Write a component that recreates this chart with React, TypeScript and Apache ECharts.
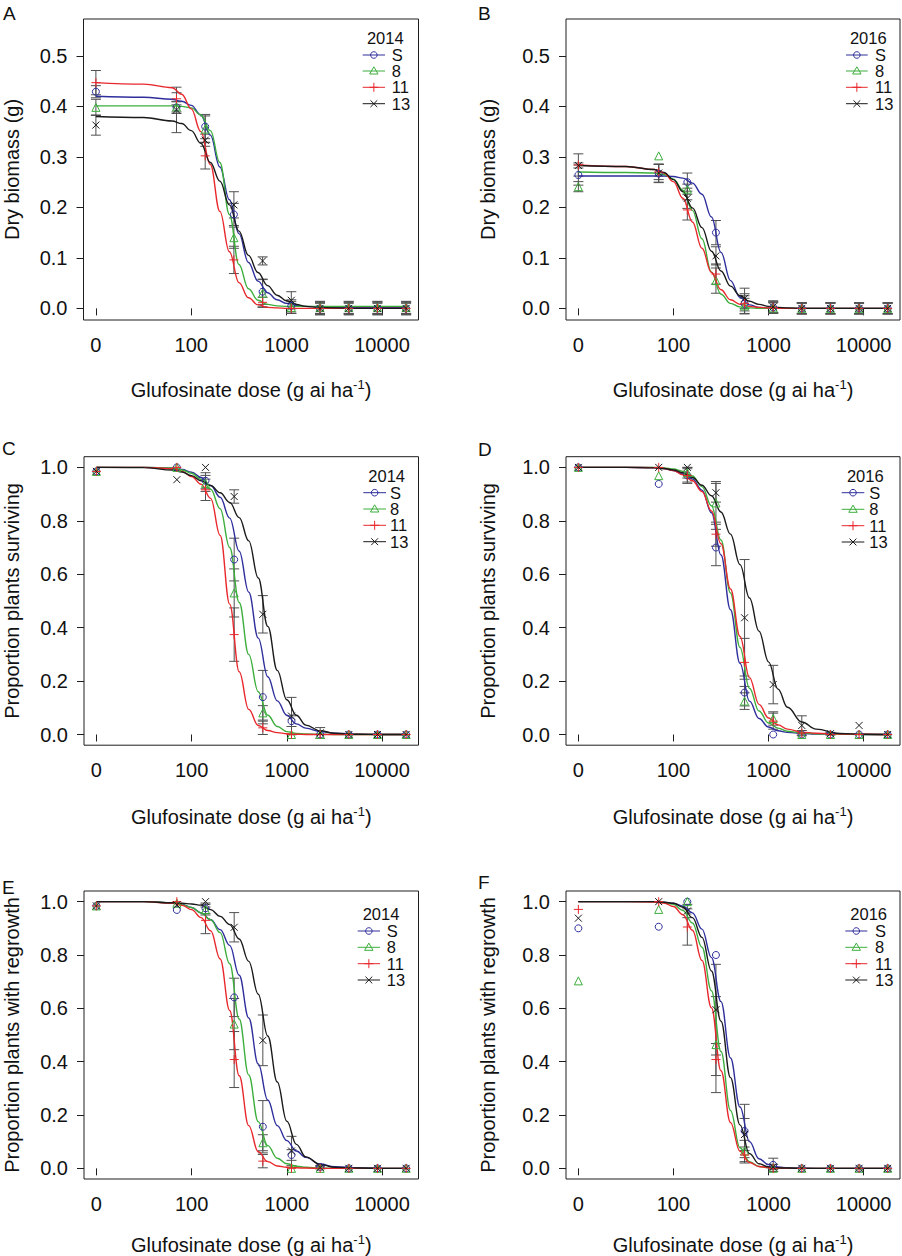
import React, { useEffect, useRef } from 'react';
import * as echarts from 'echarts';

// ---------- shared categories / ticks ----------
const DOSES = [0, 70, 140, 280, 560, 1120, 2240, 4480, 8960, 17920];
const GROUPS = ['S', '8', '11', '13'];
const CURVE_LOG_DOSE = [1.0, 1.5, 1.8, 1.9, 2.0, 2.1, 2.2, 2.3, 2.4, 2.5, 2.6, 2.7, 2.8, 2.9, 3.0, 3.1, 3.2, 3.35, 3.5, 3.75, 4.0, 4.253];
const X_TICKS = [1, 2, 3, 4];
const X_TICK_LABELS = ['0', '100', '1000', '10000'];
const Y_TICKS_BIOMASS = [0, 0.1, 0.2, 0.3, 0.4, 0.5];
const Y_TICKS_PROP = [0, 0.2, 0.4, 0.6, 0.8, 1.0];

// ---------- Panel A: dry biomass 2014 ----------
const A_CURVE_S = [0.420, 0.418, 0.414, 0.410, 0.402, 0.383, 0.343, 0.280, 0.215, 0.148, 0.091, 0.054, 0.031, 0.017, 0.010, 0.006, 0.004, 0.003, 0.002, 0.002, 0.002, 0.002];
const A_CURVE_8 = [0.401, 0.401, 0.401, 0.400, 0.397, 0.383, 0.352, 0.289, 0.186, 0.087, 0.039, 0.016, 0.008, 0.005, 0.004, 0.004, 0.004, 0.004, 0.004, 0.004, 0.004, 0.004];
const A_CURVE_11 = [0.447, 0.444, 0.437, 0.424, 0.395, 0.350, 0.285, 0.192, 0.112, 0.051, 0.021, 0.007, 0.002, 0.001, 0, 0, 0, 0, 0, 0, 0, 0];
const A_CURVE_13 = [0.380, 0.378, 0.371, 0.366, 0.352, 0.327, 0.289, 0.252, 0.205, 0.153, 0.105, 0.071, 0.045, 0.026, 0.015, 0.008, 0.004, 0.002, 0.001, 0, 0, 0];
const A_MEAN_S = [0.429, 0.398, 0.360, 0.186, 0.033, 0.005, 0, 0, 0, 0];
const A_SE_S = [0.012, 0.012, 0.024, 0.022, 0.025, 0.012, 0.012, 0.012, 0.012, 0.012];
const A_MEAN_8 = [0.398, 0.399, 0.355, 0.140, 0.030, 0.002, 0.002, 0.002, 0.002, 0.002];
const A_SE_8 = [0.016, 0.010, 0.026, 0.021, 0.027, 0.012, 0.012, 0.012, 0.012, 0.012];
const A_MEAN_11 = [0.447, 0.415, 0.302, 0.096, 0.012, 0, 0, 0, 0, 0];
const A_SE_11 = [0.024, 0.012, 0.026, 0.027, 0.010, 0.010, 0.010, 0.010, 0.010, 0.010];
const A_MEAN_13 = [0.363, 0.393, 0.333, 0.205, 0.094, 0.016, 0, 0, 0, 0];
const A_SE_13 = [0.020, 0.045, 0.012, 0.026, 0.008, 0.017, 0.013, 0.013, 0.013, 0.013];

// ---------- Panel B: dry biomass 2016 ----------
const B_CURVE_S = [0.262, 0.262, 0.262, 0.262, 0.261, 0.258, 0.248, 0.226, 0.181, 0.111, 0.055, 0.022, 0.007, 0.002, 0.001, 0, 0, 0, 0, 0, 0, 0];
const B_CURVE_8 = [0.270, 0.269, 0.268, 0.265, 0.256, 0.234, 0.194, 0.138, 0.072, 0.028, 0.010, 0.003, 0.001, 0, 0, 0, 0, 0, 0, 0, 0, 0];
const B_CURVE_11 = [0.284, 0.281, 0.275, 0.268, 0.251, 0.218, 0.171, 0.119, 0.071, 0.037, 0.017, 0.008, 0.004, 0.002, 0.001, 0, 0, 0, 0, 0, 0, 0];
const B_CURVE_13 = [0.283, 0.281, 0.275, 0.269, 0.255, 0.231, 0.199, 0.160, 0.113, 0.074, 0.044, 0.025, 0.014, 0.008, 0.004, 0.002, 0.001, 0, 0, 0, 0, 0];
const B_MEAN_S = [0.264, 0.267, 0.250, 0.150, 0.009, 0.002, 0, 0, 0, 0];
const B_SE_S = [0.020, 0.018, 0.018, 0.024, 0.020, 0.012, 0.011, 0.011, 0.011, 0.011];
const B_MEAN_8 = [0.241, 0.302, 0.236, 0.055, 0.005, 0.001, 0, 0, 0, 0];
const B_SE_8 = [0.010, 0, 0.010, 0.025, 0.015, 0.010, 0.011, 0.011, 0.011, 0.011];
const B_MEAN_11 = [0.284, 0.270, 0.195, 0.068, 0.010, 0.002, 0, 0, 0, 0];
const B_SE_11 = [0.022, 0.015, 0.020, 0.020, 0.015, 0.010, 0.010, 0.010, 0.010, 0.010];
const B_MEAN_13 = [0.283, 0.268, 0.218, 0.104, 0.020, 0.003, 0, 0, 0, 0];
const B_SE_13 = [0.005, 0.018, 0.020, 0.018, 0.020, 0.012, 0.011, 0.011, 0.011, 0.011];

// ---------- Panel C: proportion surviving 2014 ----------
const C_CURVE_S = [1, 1, 0.997, 0.992, 0.982, 0.962, 0.932, 0.888, 0.81, 0.686, 0.533, 0.361, 0.216, 0.126, 0.072, 0.040, 0.024, 0.011, 0.005, 0.001, 0, 0];
const C_CURVE_8 = [1, 1, 0.998, 0.99, 0.978, 0.955, 0.918, 0.845, 0.70, 0.494, 0.30, 0.16, 0.072, 0.030, 0.011, 0.004, 0.002, 0.001, 0, 0, 0, 0];
const C_CURVE_11 = [1, 1, 0.995, 0.985, 0.966, 0.937, 0.884, 0.745, 0.488, 0.235, 0.094, 0.034, 0.015, 0.007, 0.003, 0.001, 0, 0, 0, 0, 0, 0];
const C_CURVE_13 = [1, 0.999, 0.99, 0.983, 0.969, 0.95, 0.932, 0.905, 0.869, 0.812, 0.725, 0.586, 0.405, 0.24, 0.13, 0.072, 0.035, 0.014, 0.005, 0.001, 0, 0];
const C_MEAN_S = [0.985, 1.0, 0.95, 0.655, 0.14, 0.05, 0, 0, 0, 0];
const C_SE_S = [0, 0, 0.03, 0.08, 0.10, 0.02, 0, 0, 0, 0];
const C_MEAN_8 = [0.985, 1.0, 0.94, 0.53, 0.081, 0, 0, 0, 0, 0];
const C_SE_8 = [0, 0, 0.03, 0.09, 0.027, 0, 0, 0, 0, 0];
const C_MEAN_11 = [0.985, 1.0, 0.916, 0.374, 0.025, 0, 0, 0, 0, 0];
const C_SE_11 = [0, 0, 0.04, 0.10, 0.025, 0, 0, 0, 0, 0];
const C_MEAN_13 = [0.985, 0.954, 1.0, 0.891, 0.45, 0.069, 0.006, 0, 0, 0];
const C_SE_13 = [0, 0, 0, 0.025, 0.07, 0.07, 0.02, 0, 0, 0];

// ---------- Panel D: proportion surviving 2016 ----------
const D_CURVE_S = [1, 1, 0.999, 0.996, 0.988, 0.975, 0.956, 0.915, 0.83, 0.672, 0.467, 0.267, 0.125, 0.06, 0.028, 0.014, 0.008, 0.004, 0.002, 0.001, 0, 0];
const D_CURVE_8 = [1, 1, 1, 0.998, 0.994, 0.985, 0.968, 0.928, 0.856, 0.728, 0.53, 0.326, 0.173, 0.088, 0.043, 0.024, 0.012, 0.006, 0.003, 0.001, 0, 0];
const D_CURVE_11 = [1, 1, 0.999, 0.996, 0.988, 0.972, 0.95, 0.91, 0.837, 0.714, 0.545, 0.367, 0.213, 0.113, 0.062, 0.036, 0.020, 0.009, 0.005, 0.002, 0.001, 0];
const D_CURVE_13 = [1, 1, 0.998, 0.996, 0.99, 0.98, 0.962, 0.933, 0.894, 0.833, 0.75, 0.636, 0.511, 0.387, 0.272, 0.17, 0.102, 0.047, 0.02, 0.004, 0.001, 0];
const D_MEAN_S = [1, 0.938, 0.97, 0.70, 0.157, 0, 0, 0, 0, 0];
const D_SE_S = [0, 0, 0.03, 0.068, 0.05, 0, 0, 0, 0, 0];
const D_MEAN_8 = [1, 0.969, 0.98, 0.867, 0.125, 0.06, 0, 0, 0, 0];
const D_SE_8 = [0, 0, 0.02, 0.08, 0.031, 0.025, 0, 0, 0, 0];
const D_MEAN_11 = [1, 1, 0.97, 0.75, 0.27, 0.05, 0.005, 0, 0, 0];
const D_SE_11 = [0, 0, 0.025, 0.045, 0.09, 0.03, 0.01, 0, 0, 0];
const D_MEAN_13 = [1, 1, 1, 0.905, 0.437, 0.187, 0.034, 0.003, 0.034, 0];
const D_SE_13 = [0, 0, 0, 0.035, 0.218, 0.072, 0.036, 0.005, 0, 0];

// ---------- Panel E: proportion with regrowth 2014 ----------
const E_CURVE_S = [1, 1, 0.996, 0.99, 0.978, 0.958, 0.932, 0.895, 0.836, 0.724, 0.564, 0.391, 0.256, 0.16, 0.104, 0.065, 0.041, 0.016, 0.006, 0.002, 0, 0];
const E_CURVE_8 = [1, 1, 0.996, 0.988, 0.978, 0.958, 0.932, 0.884, 0.767, 0.56, 0.35, 0.175, 0.085, 0.038, 0.017, 0.008, 0.004, 0.001, 0, 0, 0, 0];
const E_CURVE_11 = [1, 1, 0.994, 0.986, 0.97, 0.94, 0.891, 0.785, 0.592, 0.347, 0.16, 0.062, 0.025, 0.009, 0.004, 0.002, 0.001, 0, 0, 0, 0, 0];
const E_CURVE_13 = [1, 1, 0.996, 0.994, 0.991, 0.987, 0.97, 0.945, 0.914, 0.86, 0.776, 0.653, 0.496, 0.324, 0.177, 0.09, 0.043, 0.015, 0.004, 0.001, 0, 0];
const E_MEAN_S = [0.984, 0.969, 0.975, 0.641, 0.156, 0.05, 0.005, 0, 0, 0];
const E_SE_S = [0, 0, 0.02, 0.072, 0.098, 0.02, 0.005, 0, 0, 0];
const E_MEAN_8 = [0.984, 0.994, 0.97, 0.541, 0.096, 0, 0, 0, 0, 0];
const E_SE_8 = [0, 0, 0.02, 0.096, 0.03, 0, 0, 0, 0, 0];
const E_MEAN_11 = [0.984, 1.0, 0.93, 0.408, 0.027, 0, 0, 0, 0, 0];
const E_SE_11 = [0, 0, 0.05, 0.105, 0.025, 0, 0, 0, 0, 0];
const E_MEAN_13 = [0.984, 0.988, 1.0, 0.904, 0.48, 0.065, 0.003, 0, 0, 0];
const E_SE_13 = [0, 0, 0, 0.055, 0.095, 0.055, 0.005, 0, 0, 0];

// ---------- Panel F: proportion with regrowth 2016 ----------
const F_CURVE_S = [1, 1, 1, 0.998, 0.994, 0.983, 0.958, 0.897, 0.79, 0.625, 0.414, 0.23, 0.10, 0.036, 0.014, 0.005, 0.002, 0.001, 0, 0, 0, 0];
const F_CURVE_8 = [1, 1, 1, 0.997, 0.99, 0.967, 0.92, 0.829, 0.666, 0.438, 0.217, 0.077, 0.025, 0.007, 0.002, 0, 0, 0, 0, 0, 0, 0];
const F_CURVE_11 = [1, 1, 0.999, 0.995, 0.982, 0.951, 0.893, 0.78, 0.602, 0.366, 0.172, 0.064, 0.022, 0.007, 0.003, 0.001, 0, 0, 0, 0, 0, 0];
const F_CURVE_13 = [1, 1, 1, 0.998, 0.994, 0.979, 0.94, 0.866, 0.74, 0.552, 0.34, 0.163, 0.055, 0.017, 0.006, 0.002, 0.001, 0, 0, 0, 0, 0];
const F_MEAN_S = [0.90, 0.906, 1.0, 0.80, 0.14, 0.013, 0, 0, 0, 0];
const F_SE_S = [0, 0, 0, 0, 0.10, 0.025, 0, 0, 0, 0];
const F_MEAN_8 = [0.703, 0.971, 1.0, 0.464, 0.065, 0, 0, 0, 0, 0];
const F_SE_8 = [0, 0, 0, 0.18, 0.04, 0, 0, 0, 0, 0];
const F_MEAN_11 = [0.971, 1.0, 0.905, 0.408, 0.05, 0, 0, 0, 0, 0];
const F_SE_11 = [0, 0, 0.068, 0.06, 0.03, 0, 0, 0, 0, 0];
const F_MEAN_13 = [0.938, 1.0, 0.965, 0.595, 0.127, 0.005, 0, 0, 0, 0];
const F_SE_13 = [0, 0, 0.025, 0.17, 0.06, 0.01, 0, 0, 0, 0];

// ---------- styles & layout ----------
const FONT = "'Liberation Sans', Arial, Helvetica, sans-serif";
const GROUP_COLORS = ['#2e2e9c', '#3cae3c', '#e8282c', '#1a1a1a'];
const SYMBOLS = ['circle', 'triangle', 'path://M5,0L5,10M0,5L10,5', 'path://M0,0L10,10M10,0L0,10'];
const SYMBOL_SIZES = [7, 8, 9, 7];
const ERR_COLOR = '#505050';
const AXIS_COLOR = '#1e1e1e';
const TEXT_COLOR = '#111111';
const LEGEND_FONT = 16.5;
const LEGEND_LINE_HEIGHT = 15;

const PANELS = [
  {
    letter: 'A', letterPos: [3, 13.5], year: '2014',
    grid: { left: 83.5, top: 19, width: 335, height: 301 },
    yMin: -0.023, yMax: 0.573, yTicks: Y_TICKS_BIOMASS, yName: 'Dry biomass (g)', yNameGap: 62, xNameGap: 58,
    curves: [A_CURVE_S, A_CURVE_8, A_CURVE_11, A_CURVE_13],
    means: [A_MEAN_S, A_MEAN_8, A_MEAN_11, A_MEAN_13], ses: [A_SE_S, A_SE_8, A_SE_11, A_SE_13],
    legend: { title: [385.3, 38.3], rows: [55, 71, 87.3, 103.7], line: [362.7, 385], text: 391.7 },
  },
  {
    letter: 'B', letterPos: [478, 13.5], year: '2016',
    grid: { left: 566, top: 19, width: 334, height: 301 },
    yMin: -0.023, yMax: 0.573, yTicks: Y_TICKS_BIOMASS, yName: 'Dry biomass (g)', yNameGap: 68.5, xNameGap: 58,
    curves: [B_CURVE_S, B_CURVE_8, B_CURVE_11, B_CURVE_13],
    means: [B_MEAN_S, B_MEAN_8, B_MEAN_11, B_MEAN_13], ses: [B_SE_S, B_SE_8, B_SE_11, B_SE_13],
    legend: { title: [868.3, 38.3], rows: [55, 71, 87.3, 103.7], line: [846, 867.7], text: 875 },
  },
  {
    letter: 'C', letterPos: [2, 448.5], year: '2014',
    grid: { left: 84, top: 456.7, width: 334.5, height: 288.5 },
    yMin: -0.04, yMax: 1.04, yTicks: Y_TICKS_PROP, yName: 'Proportion plants surviving', yNameGap: 62, xNameGap: 60,
    curves: [C_CURVE_S, C_CURVE_8, C_CURVE_11, C_CURVE_13],
    means: [C_MEAN_S, C_MEAN_8, C_MEAN_11, C_MEAN_13], ses: [C_SE_S, C_SE_8, C_SE_11, C_SE_13],
    legend: { title: [386.7, 475.8], rows: [492.7, 509, 525.3, 541.7], line: [363.3, 386], text: 390 },
  },
  {
    letter: 'D', letterPos: [478, 449.5], year: '2016',
    grid: { left: 566, top: 456.7, width: 334, height: 288.5 },
    yMin: -0.04, yMax: 1.04, yTicks: Y_TICKS_PROP, yName: 'Proportion plants surviving', yNameGap: 68.5, xNameGap: 60,
    curves: [D_CURVE_S, D_CURVE_8, D_CURVE_11, D_CURVE_13],
    means: [D_MEAN_S, D_MEAN_8, D_MEAN_11, D_MEAN_13], ses: [D_SE_S, D_SE_8, D_SE_11, D_SE_13],
    legend: { title: [865.3, 475.8], rows: [492.7, 509.3, 525.7, 542], line: [841.7, 864.3], text: 869.3 },
  },
  {
    letter: 'E', letterPos: [2, 887.5], year: '2014',
    grid: { left: 84, top: 891, width: 334.5, height: 288.3 },
    yMin: -0.04, yMax: 1.04, yTicks: Y_TICKS_PROP, yName: 'Proportion plants with regrowth', yNameGap: 62, xNameGap: 54,
    curves: [E_CURVE_S, E_CURVE_8, E_CURVE_11, E_CURVE_13],
    means: [E_MEAN_S, E_MEAN_8, E_MEAN_11, E_MEAN_13], ses: [E_SE_S, E_SE_8, E_SE_11, E_SE_13],
    legend: { title: [381, 914.2], rows: [931, 947.3, 963.7, 980], line: [357.7, 380], text: 386.7 },
  },
  {
    letter: 'F', letterPos: [478, 882.5], year: '2016',
    grid: { left: 566, top: 891, width: 334, height: 288.3 },
    yMin: -0.04, yMax: 1.04, yTicks: Y_TICKS_PROP, yName: 'Proportion plants with regrowth', yNameGap: 68.5, xNameGap: 54,
    curves: [F_CURVE_S, F_CURVE_8, F_CURVE_11, F_CURVE_13],
    means: [F_MEAN_S, F_MEAN_8, F_MEAN_11, F_MEAN_13], ses: [F_SE_S, F_SE_8, F_SE_11, F_SE_13],
    legend: { title: [868.7, 914.2], rows: [931, 947.3, 963.7, 980], line: [845.3, 867.3], text: 875 },
  },
];

// dose 0 is drawn at the broken-axis position one decade below 100
const doseToAxis = (d: number) => (d === 0 ? 1 : Math.log10(d));

function markerEl(kind: number, cx: number, cy: number, color: string): any {
  const st = { stroke: color, fill: 'none', lineWidth: 1 };
  if (kind === 0) return { type: 'circle', shape: { cx, cy, r: 3.3 }, style: st };
  if (kind === 1) return { type: 'polygon', shape: { points: [[cx, cy - 4.2], [cx + 4.2, cy + 3], [cx - 4.2, cy + 3]] }, style: st };
  if (kind === 2) {
    return {
      type: 'group', children: [
        { type: 'line', shape: { x1: cx - 4.5, y1: cy, x2: cx + 4.5, y2: cy }, style: st },
        { type: 'line', shape: { x1: cx, y1: cy - 4.5, x2: cx, y2: cy + 4.5 }, style: st },
      ],
    };
  }
  return {
    type: 'group', children: [
      { type: 'line', shape: { x1: cx - 3.4, y1: cy - 3.4, x2: cx + 3.4, y2: cy + 3.4 }, style: st },
      { type: 'line', shape: { x1: cx - 3.4, y1: cy + 3.4, x2: cx + 3.4, y2: cy - 3.4 }, style: st },
    ],
  };
}

function textStyle(text: string, size: number, align: string, lineHeight?: number) {
  return {
    text, fontSize: size, fontFamily: FONT, fill: TEXT_COLOR,
    lineHeight: lineHeight ?? size,
    align, textAlign: align, verticalAlign: 'middle', textVerticalAlign: 'middle',
  };
}

function buildOption() {
  const grids: any[] = [];
  const xAxes: any[] = [];
  const yAxes: any[] = [];
  const series: any[] = [];
  const graphics: any[] = [];

  PANELS.forEach((p, i) => {
    grids.push({ ...p.grid, show: true, borderColor: AXIS_COLOR, borderWidth: 1, backgroundColor: 'transparent', containLabel: false });
    xAxes.push({
      gridIndex: i, type: 'value', min: 0.870, max: 4.383, position: 'bottom',
      axisLine: { show: false }, splitLine: { show: false },
      axisTick: { show: true, length: 7, customValues: X_TICKS, lineStyle: { color: AXIS_COLOR, width: 1 } },
      axisLabel: {
        customValues: X_TICKS, fontSize: 20, fontFamily: FONT, color: TEXT_COLOR, margin: 15,
        formatter: (v: number) => X_TICK_LABELS[X_TICKS.indexOf(Math.round(v))] ?? '',
      },
      name: '{t|Glufosinate dose (g ai ha}{s|-1}{t|)}', nameLocation: 'middle', nameGap: p.xNameGap,
      nameTextStyle: {
        fontSize: 20, fontFamily: FONT, color: TEXT_COLOR,
        rich: {
          t: { fontSize: 20, fontFamily: FONT, color: TEXT_COLOR, lineHeight: 24 },
          s: { fontSize: 13, fontFamily: FONT, color: TEXT_COLOR, lineHeight: 14, verticalAlign: 'top' },
        },
      },
    });
    yAxes.push({
      gridIndex: i, type: 'value', min: p.yMin, max: p.yMax, position: 'left',
      axisLine: { show: false }, splitLine: { show: false },
      axisTick: { show: true, length: 7, customValues: p.yTicks, lineStyle: { color: AXIS_COLOR, width: 1 } },
      axisLabel: {
        customValues: p.yTicks, fontSize: 20, fontFamily: FONT, color: TEXT_COLOR, margin: 16,
        formatter: (v: number) => v.toFixed(1),
      },
      name: p.yName, nameLocation: 'middle', nameGap: p.yNameGap,
      nameTextStyle: { fontSize: 20, fontFamily: FONT, color: TEXT_COLOR },
    });

    // error bars
    const errData: number[][] = [];
    GROUPS.forEach((_, k) => {
      DOSES.forEach((d, j) => {
        const se = p.ses[k][j];
        if (se > 0) errData.push([doseToAxis(d), p.means[k][j] - se, p.means[k][j] + se]);
      });
    });
    series.push({
      type: 'custom', xAxisIndex: i, yAxisIndex: i, z: 2, silent: true,
      encode: { x: 0, y: [1, 2] },
      data: errData,
      renderItem: (_params: any, api: any) => {
        const x = api.value(0);
        const top = api.coord([x, api.value(2)]);
        const bot = api.coord([x, api.value(1)]);
        const w = 5;
        const st = { stroke: ERR_COLOR, lineWidth: 1, fill: 'none' };
        return {
          type: 'group', children: [
            { type: 'line', shape: { x1: top[0], y1: top[1], x2: bot[0], y2: bot[1] }, style: st },
            { type: 'line', shape: { x1: top[0] - w, y1: top[1], x2: top[0] + w, y2: top[1] }, style: st },
            { type: 'line', shape: { x1: bot[0] - w, y1: bot[1], x2: bot[0] + w, y2: bot[1] }, style: st },
          ],
        };
      },
    });

    // fitted curves
    GROUPS.forEach((g, k) => {
      series.push({
        type: 'line', name: `${p.letter}-${g}-curve`, xAxisIndex: i, yAxisIndex: i, z: 3,
        data: CURVE_LOG_DOSE.map((x, j) => [x, p.curves[k][j]]),
        showSymbol: false, symbol: 'none', smooth: 0.4, smoothMonotone: 'x', silent: true,
        lineStyle: { color: GROUP_COLORS[k], width: 1.4 },
      });
    });

    // observed means
    GROUPS.forEach((g, k) => {
      series.push({
        type: 'scatter', name: `${p.letter}-${g}`, xAxisIndex: i, yAxisIndex: i, z: 4, silent: true,
        data: DOSES.map((d, j) => [doseToAxis(d), p.means[k][j]]),
        symbol: SYMBOLS[k], symbolSize: SYMBOL_SIZES[k],
        itemStyle: { color: 'rgba(0,0,0,0)', borderColor: GROUP_COLORS[k], borderWidth: 1, opacity: 1 },
      });
    });

    // panel letter
    graphics.push({ type: 'text', x: p.letterPos[0], y: p.letterPos[1], style: textStyle(p.letter, 19, 'left') });

    // legend
    const L = p.legend;
    graphics.push({ type: 'text', x: L.title[0], y: L.title[1], style: textStyle(p.year, LEGEND_FONT, 'center', LEGEND_LINE_HEIGHT) });
    GROUPS.forEach((g, k) => {
      const y = L.rows[k];
      graphics.push({ type: 'line', shape: { x1: L.line[0], y1: y, x2: L.line[1], y2: y }, style: { stroke: GROUP_COLORS[k], lineWidth: 1 } });
      graphics.push(markerEl(k, (L.line[0] + L.line[1]) / 2, y, GROUP_COLORS[k]));
      graphics.push({ type: 'text', x: L.text, y, style: textStyle(g, LEGEND_FONT, 'left', LEGEND_LINE_HEIGHT) });
    });
  });

  return {
    animation: false,
    backgroundColor: '#ffffff',
    grid: grids,
    xAxis: xAxes,
    yAxis: yAxes,
    series,
    graphic: { elements: graphics },
  };
}

export default function App() {
  const ref = useRef<HTMLDivElement>(null);
  useEffect(() => {
    if (!ref.current) return;
    const chart = echarts.init(ref.current, null, { renderer: 'svg' });
    chart.setOption(buildOption() as any);
    return () => chart.dispose();
  }, []);
  return (
    <div
      ref={ref}
      style={{ position: 'absolute', left: 0, top: 0, width: 902, height: 1256, background: '#fff' }}
    />
  );
}
